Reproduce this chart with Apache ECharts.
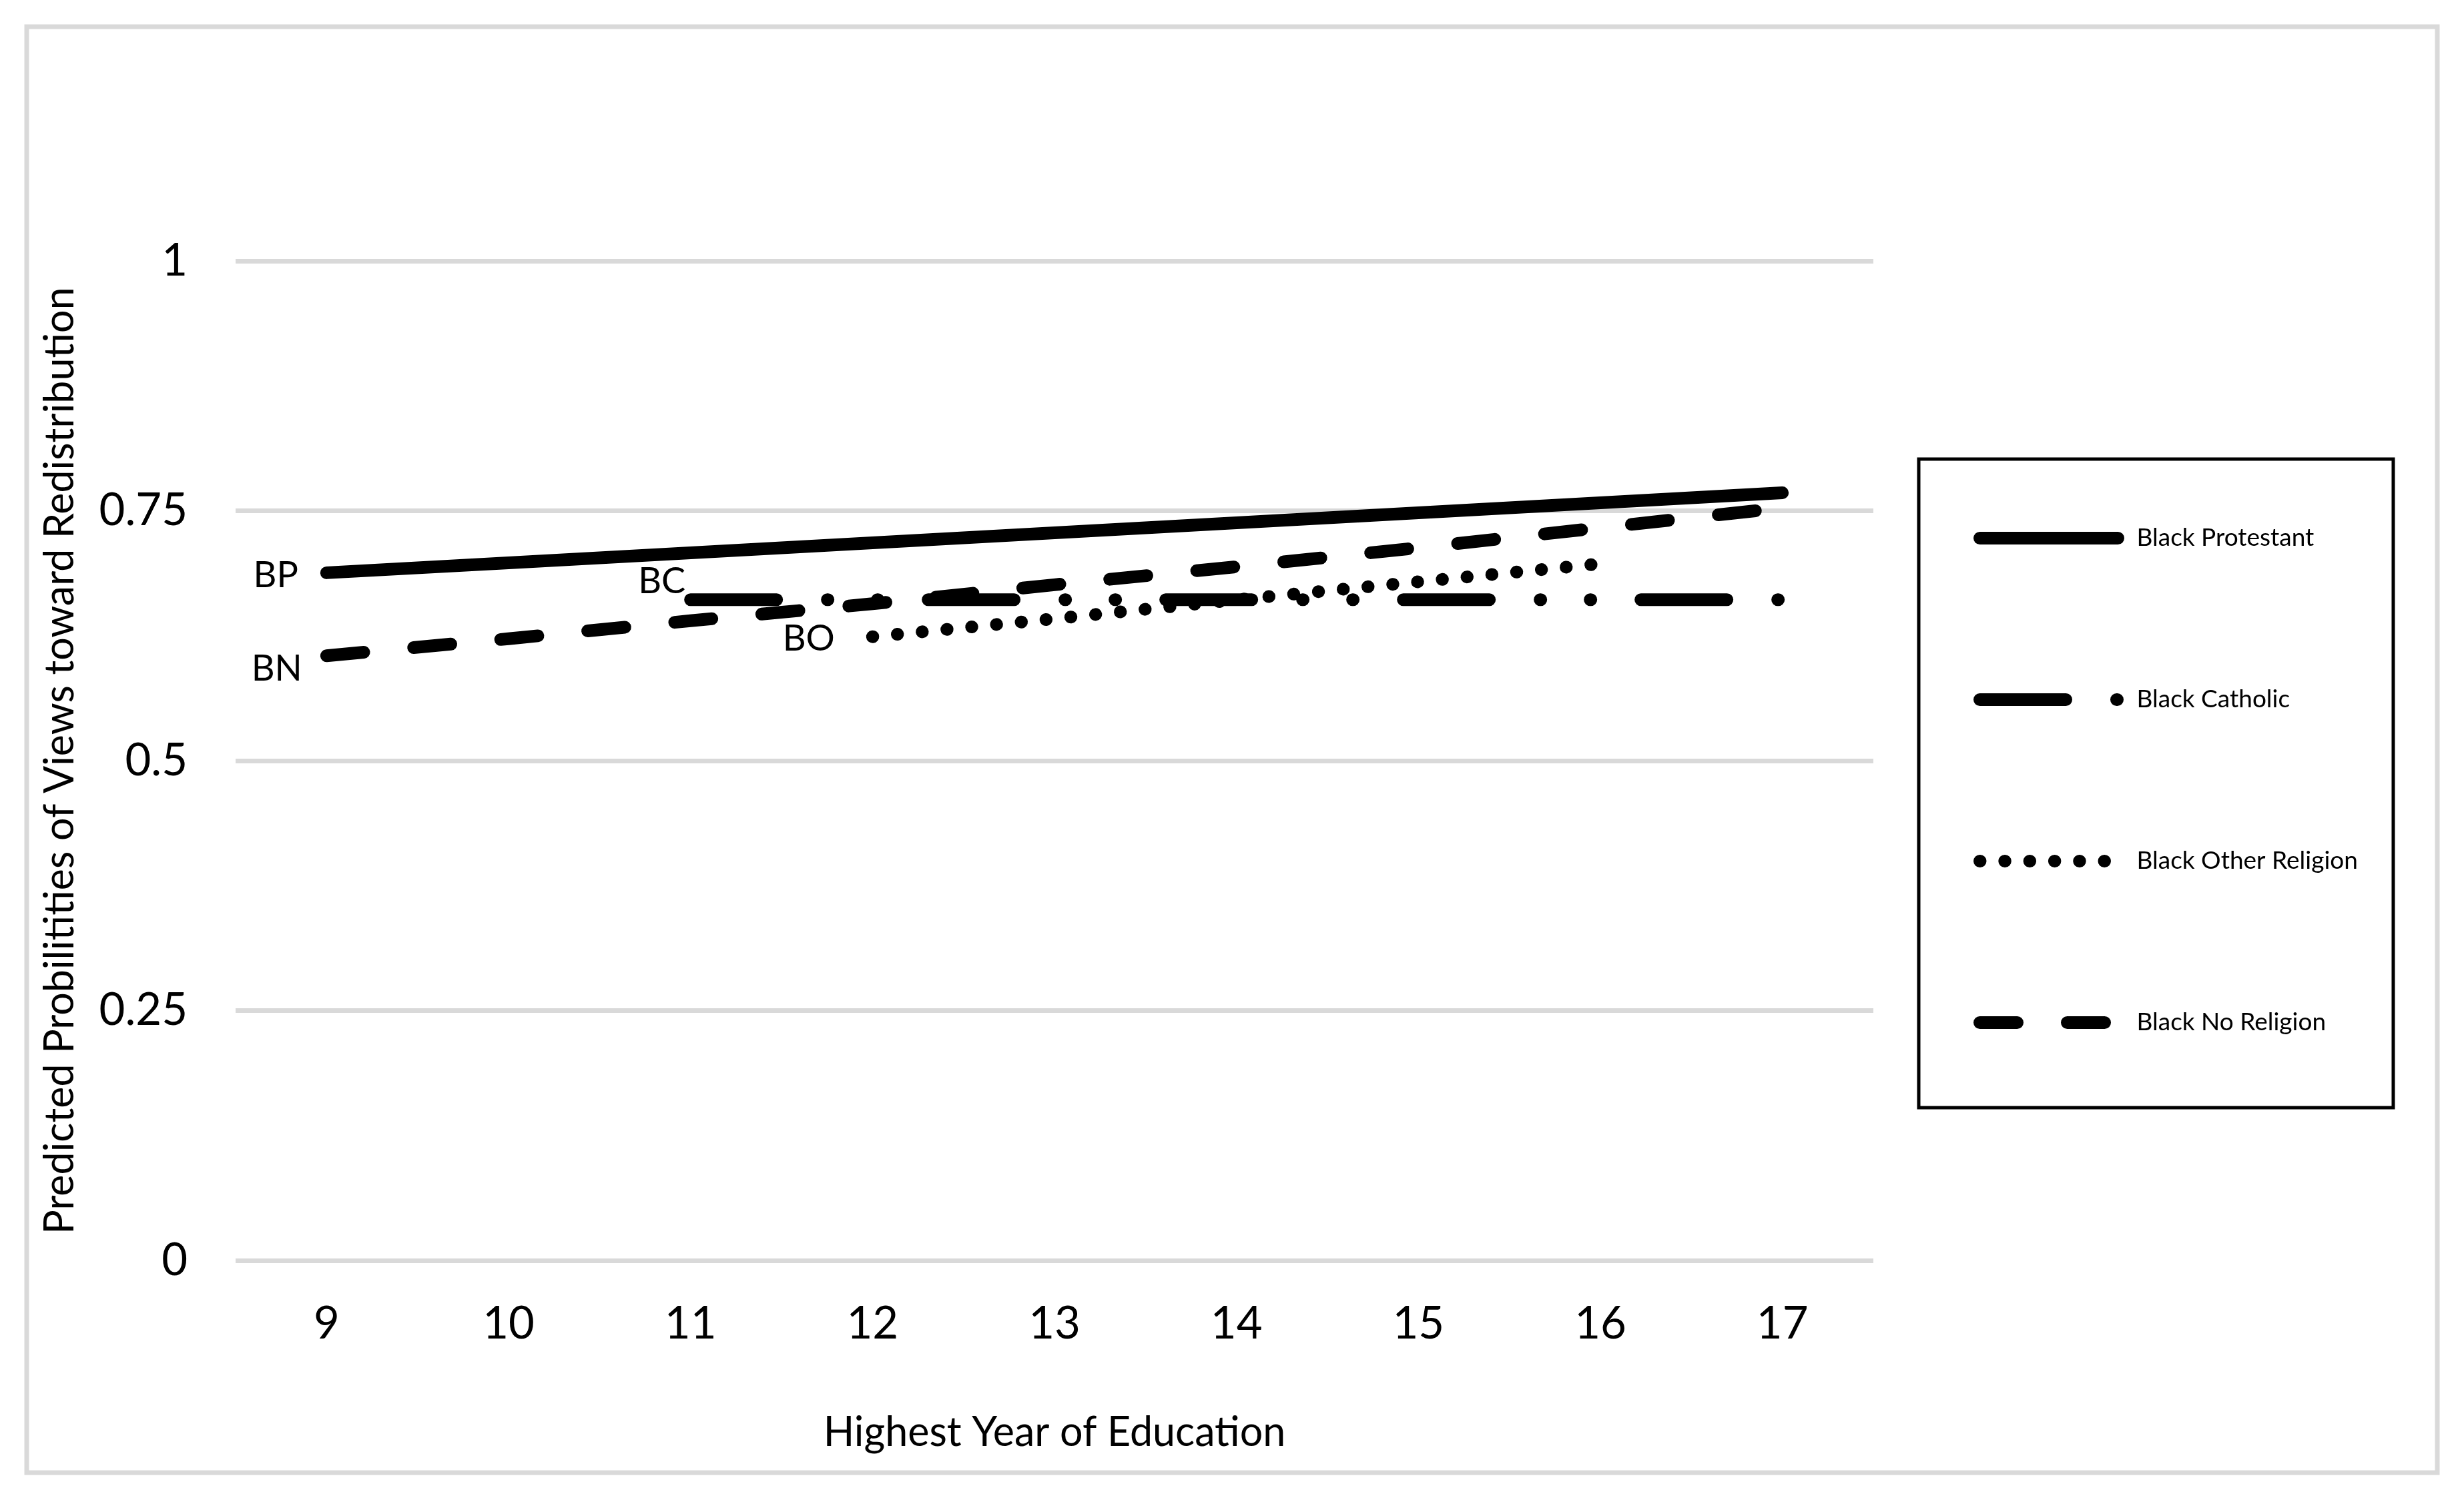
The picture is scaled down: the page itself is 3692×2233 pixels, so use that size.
<!DOCTYPE html>
<html>
<head>
<meta charset="utf-8">
<script src="https://cdn.jsdelivr.net/npm/echarts@6/dist/echarts.min.js"></script>
<style>html,body{margin:0;padding:0;background:#fff}#c{width:3692px;height:2233px}</style>
</head>
<body>
<div id="c"></div>
<script>
const categories = ['9','10','11','12','13','14','15','16','17'];
const bpValues = [0.688, 0.698, 0.708, 0.718, 0.728, 0.738, 0.748, 0.758, 0.768];
const bcValues = [null, null, 0.661, 0.661, 0.661, 0.661, 0.661, 0.661, 0.661];
const boValues = [null, null, null, 0.624, 0.642, 0.661, 0.679, 0.697, null];
const bnValues = [0.605, 0.622, 0.640, 0.657, 0.676, 0.694, 0.713, 0.733, 0.753];
const seriesNames = ['Black Protestant', 'Black Catholic', 'Black Other Religion', 'Black No Religion'];
const shortLabels = ['BP', 'BC', 'BO', 'BN'];
const yTicks = [0, 0.25, 0.5, 0.75, 1];

const FONT = 'Lato';
const chart = echarts.init(document.getElementById('c'), null, {renderer: 'canvas'});

function withFirstLabel(values, text, opts) {
  let done = false;
  return values.map(v => {
    if (v === null) return null;
    if (!done) {
      done = true;
      return {value: v, label: Object.assign({show: true, formatter: text, color: '#000', fontFamily: FONT, fontSize: 54, position: 'left'}, opts)};
    }
    return v;
  });
}

function lineSeries(name, data, lineType) {
  return {
    name: name,
    type: 'line',
    data: data,
    symbol: 'circle',
    symbolSize: 1,
    showSymbol: true,
    connectNulls: false,
    itemStyle: {color: 'rgba(0,0,0,0)'},
    lineStyle: {color: '#000', width: 19, type: lineType, cap: 'round', join: 'round'},
    label: {show: false},
    emphasis: {disabled: true},
    animation: false,
    z: 3
  };
}

const legendCenters = [810, 1052, 1294, 1536];
const legends = seriesNames.map((n, i) => ({
  data: [n],
  orient: 'vertical',
  left: 2957,
  top: legendCenters[i] - 22,
  itemWidth: 207,
  itemHeight: 44,
  itemGap: 0,
  padding: 0,
  selectedMode: false,
  lineStyle: {width: 19, cap: 'round', color: '#000'},
  itemStyle: {color: 'rgba(0,0,0,0)', borderWidth: 0},
  textStyle: {fontFamily: FONT, fontSize: 37, color: '#000', padding: [0, 0, 0, 23]}
}));

chart.setOption({
  backgroundColor: '#fff',
  animation: false,
  textStyle: {fontFamily: FONT},
  grid: {left: 353, right: 885, top: 391, bottom: 344, containLabel: false},
  legend: legends,
  xAxis: {
    type: 'category',
    data: categories,
    boundaryGap: true,
    name: 'Highest Year of Education',
    nameLocation: 'middle',
    nameGap: 228,
    nameTextStyle: {fontFamily: FONT, fontSize: 61, color: '#000'},
    axisLine: {show: false},
    axisTick: {show: false},
    axisLabel: {fontFamily: FONT, fontSize: 67, color: '#000', margin: 62},
    splitLine: {show: false}
  },
  yAxis: {
    type: 'value',
    min: 0, max: 1, interval: 0.25,
    name: 'Predicted Probilitities of Views toward Redistribution',
    nameLocation: 'middle',
    nameRotate: 90,
    nameGap: 232,
    nameTextStyle: {fontFamily: FONT, fontSize: 61, color: '#000'},
    axisLine: {show: false},
    axisTick: {show: false},
    axisLabel: {fontFamily: FONT, fontSize: 67, color: '#000', margin: 72,
      formatter: v => (yTicks.indexOf(v) >= 0 ? String(v) : '')},
    splitLine: {show: true, lineStyle: {color: '#d9d9d9', width: 7}}
  },
  graphic: [
    {type: 'rect', shape: {x: 40, y: 40, width: 3612, height: 2167}, style: {fill: 'none', stroke: '#d9d9d9', lineWidth: 7}, z: -10, silent: true},
    {type: 'rect', shape: {x: 2875, y: 688, width: 711, height: 972}, style: {fill: 'none', stroke: '#000', lineWidth: 5}, z: 10, silent: true}
  ],
  series: [
    lineSeries(seriesNames[0], withFirstLabel(bpValues, shortLabels[0], {distance: 42, offset: [0, 4]}), 'solid'),
    lineSeries(seriesNames[1], withFirstLabel(bcValues, shortLabels[1], {distance: 7, offset: [0, -27]}), [129, 76, 1, 74, 1, 75]),
    lineSeries(seriesNames[2], withFirstLabel(boValues, shortLabels[2], {distance: 56, offset: [0, 3]}), [0.5, 36.8]),
    lineSeries(seriesNames[3], withFirstLabel(bnValues, shortLabels[3], {distance: 36, offset: [0, 20]}), [56, 75])
  ]
});
</script>
</body>
</html>
